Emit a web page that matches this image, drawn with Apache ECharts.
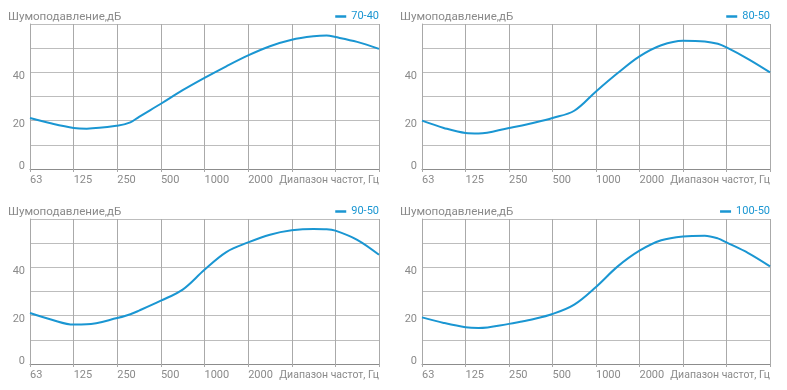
<!DOCTYPE html>
<html><head><meta charset="utf-8">
<script src="https://cdn.jsdelivr.net/npm/echarts@6/dist/echarts.min.js"></script>
<style>html,body{margin:0;padding:0;background:#fff}#c{width:787px;height:390px}</style>
</head><body><div id="c"></div>
<script>
// Frequency band tick labels (octave positions 0..5)
var freqLabels = ['63', '125', '250', '500', '1000', '2000'];
var xAxisName = 'Диапазон частот, Гц';
var yTitle = 'Шумоподавление,дБ';
var yLabels = [0, 20, 40];
var seriesNames = ['70-40', '80-50', '90-50', '100-50'];
// x positions in octaves from 63 Hz
var xPos = [0, 0.5, 1, 1.3, 2, 2.3, 2.5, 3, 3.5, 4, 4.5, 5, 5.5, 6, 6.5, 6.8, 7, 7.5, 8];
var s7040  = [21.1, 18.8, 17.0, 16.7, 17.9, 19.3, 21.6, 27.0, 32.6, 37.7, 42.5, 47.0, 50.8, 53.5, 54.9, 55.2, 54.6, 52.6, 49.7];
var s8050  = [20.0, 17.0, 14.9, 14.7, 17.0, 18.0, 18.8, 21.1, 24.1, 32.1, 39.7, 46.6, 51.2, 53.1, 52.8, 51.8, 50.3, 45.5, 40.0];
var s9050  = [21.1, 18.3, 16.3, 16.4, 19.0, 20.6, 22.1, 26.2, 30.8, 39.0, 46.3, 50.3, 53.5, 55.3, 55.9, 55.8, 55.2, 51.4, 45.2];
var s10050 = [19.3, 17.0, 15.2, 14.9, 16.6, 17.6, 18.3, 20.7, 24.6, 31.9, 40.4, 46.9, 51.2, 52.8, 53.1, 52.0, 50.3, 45.9, 40.4];
var allSeries = [s7040, s8050, s9050, s10050];

var lineColor = '#1a96d2';
var textGray = '#8a8a8a';
var grids = [
  {left: 30, top: 24, width: 349, height: 145},
  {left: 422, top: 24, width: 348, height: 145},
  {left: 30, top: 219, width: 349, height: 145},
  {left: 422, top: 219, width: 348, height: 145}
];
var option = {
  animation: false,
  textStyle: {fontFamily: 'Roboto, "Liberation Sans", sans-serif'},
  grid: grids,
  title: [], legend: [], xAxis: [], yAxis: [], series: []
};
grids.forEach(function (g, i) {
  var right = 787 - (g.left + g.width);
  option.title.push({text: yTitle, left: g.left - 22, top: g.top - 13, padding: 0,
    textStyle: {fontSize: 11.6, fontWeight: 'normal', color: textGray}});
  option.legend.push({data: [seriesNames[i]], right: right, top: g.top - 13, icon: 'rect',
    itemWidth: 11, itemHeight: 2.5, itemGap: 6, padding: 0,
    textStyle: {fontSize: 11, color: lineColor, padding: [0, 0, 0, 0]}});
  option.xAxis.push({type: 'value', gridIndex: i, min: 0, max: 8, interval: 1,
    name: xAxisName, nameLocation: 'end', nameGap: 0,
    nameTextStyle: {align: 'right', verticalAlign: 'top', fontSize: 10.5, color: textGray, padding: [6, 0, 0, 0]},
    axisLine: {show: true, lineStyle: {color: '#8c8c8c', width: 1}},
    axisTick: {show: true, length: 3, lineStyle: {color: '#a8a8a8'}},
    splitLine: {show: true, lineStyle: {color: '#aaaaaa', width: 1}},
    axisLabel: {show: true, margin: 6, fontSize: 11, color: textGray, align: 'left',
      showMaxLabel: true,
      formatter: function (v) { return v < freqLabels.length ? freqLabels[v] : ''; }}
  });
  option.yAxis.push({type: 'value', gridIndex: i, min: 0, max: 60, interval: 10,
    axisLine: {show: true, lineStyle: {color: '#a8a8a8'}},
    axisTick: {show: false},
    splitLine: {show: true, lineStyle: {color: '#bdbdbd', width: 1}},
    axisLabel: {show: true, margin: 5, fontSize: 11, color: textGray,
      formatter: function (v) {
        if (yLabels.indexOf(v) < 0) return '';
        return v === 0 ? '{z|' + v + '}' : '{n|' + v + '}';
      },
      rich: {z: {padding: [0, 0, 6, 0], fontSize: 11, color: textGray},
             n: {padding: [8, 0, 0, 0], fontSize: 11, color: textGray}}}
  });
  option.series.push({type: 'line', name: seriesNames[i], xAxisIndex: i, yAxisIndex: i,
    smooth: 0.35, showSymbol: false, symbol: 'none',
    lineStyle: {color: lineColor, width: 2}, itemStyle: {color: lineColor},
    data: xPos.map(function (x, k) { return [x, allSeries[i][k]]; })});
});
var chart = echarts.init(document.getElementById('c'), null, {renderer: 'canvas'});
chart.setOption(option);
</script></body></html>
